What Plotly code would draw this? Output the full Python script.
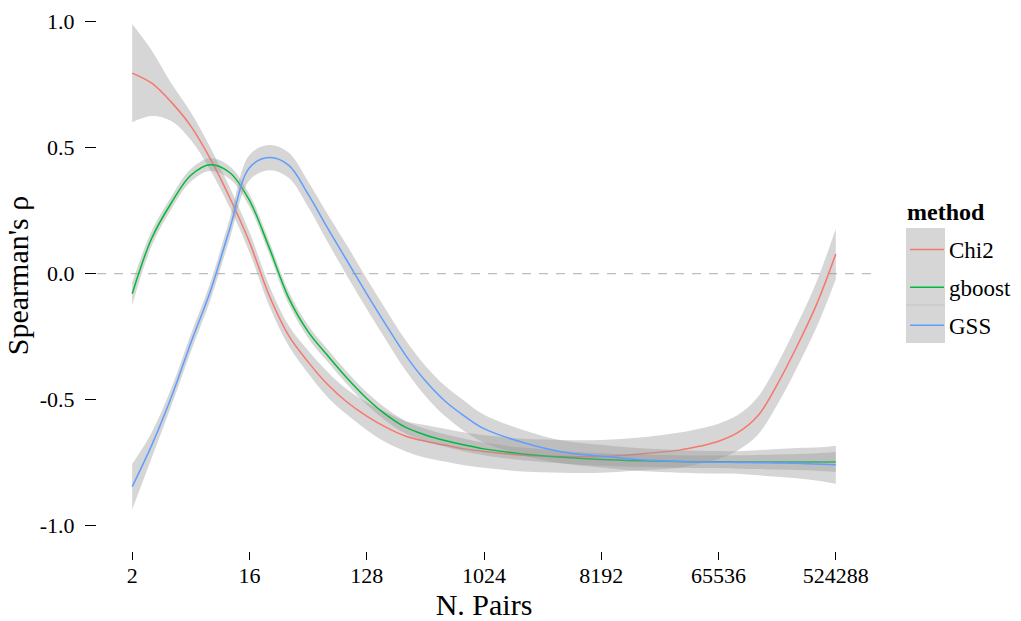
import math
import plotly.graph_objects as go

# ---- data ----
log2_pairs = [1, 1.5, 2, 2.5, 3, 3.5, 4, 4.5, 5, 5.5, 6, 6.5, 7, 7.5, 8, 8.5, 9, 9.5,
              10, 11, 12, 13, 14, 15, 15.5, 16, 16.5, 17, 17.5, 18, 18.5, 19]

chi2_mean = [0.795, 0.755, 0.68, 0.585, 0.455, 0.30, 0.125, -0.085, -0.245, -0.35, -0.44, -0.51,
             -0.565, -0.61, -0.645, -0.665, -0.68, -0.695, -0.705, -0.72, -0.725, -0.725,
             -0.715, -0.70, -0.685, -0.665, -0.63, -0.565, -0.44, -0.29, -0.125, 0.078]
chi2_half = [0.195, 0.13, 0.075, 0.055, 0.045, 0.04, 0.04, 0.04, 0.04, 0.045, 0.05, 0.05,
             0.055, 0.06, 0.06, 0.065, 0.065, 0.065, 0.065, 0.065, 0.065, 0.065, 0.065,
             0.07, 0.07, 0.07, 0.07, 0.075, 0.08, 0.085, 0.09, 0.10]

gboost_mean = [-0.08, 0.14, 0.28, 0.39, 0.432, 0.40, 0.29, 0.105, -0.095, -0.23, -0.325, -0.415,
               -0.495, -0.56, -0.61, -0.64, -0.662, -0.68, -0.695, -0.715, -0.728, -0.737,
               -0.742, -0.745, -0.746, -0.746, -0.747, -0.747, -0.747, -0.747, -0.747, -0.747]
gboost_half = [0.045, 0.03, 0.025, 0.025, 0.025, 0.025, 0.025, 0.025, 0.025, 0.025, 0.025, 0.025,
               0.025, 0.025, 0.025, 0.025, 0.025, 0.025, 0.025, 0.025, 0.025, 0.025, 0.025,
               0.025, 0.025, 0.025, 0.027, 0.028, 0.03, 0.032, 0.035, 0.04]

gss_mean = [-0.845, -0.68, -0.49, -0.275, -0.07, 0.18, 0.42, 0.46, 0.43, 0.315, 0.18, 0.05,
            -0.08, -0.205, -0.325, -0.425, -0.505, -0.565, -0.615, -0.67, -0.707, -0.724, -0.738,
            -0.745, -0.747, -0.748, -0.749, -0.75, -0.751, -0.752, -0.755, -0.758]
gss_half = [0.09, 0.05, 0.035, 0.035, 0.035, 0.04, 0.05, 0.05, 0.05, 0.05, 0.055, 0.06,
            0.06, 0.06, 0.06, 0.06, 0.06, 0.06, 0.055, 0.05, 0.045, 0.045, 0.045, 0.045,
            0.045, 0.045, 0.045, 0.05, 0.055, 0.06, 0.065, 0.075]

methods = ["Chi2", "gboost", "GSS"]
colors = ["#F8766D", "#00BA38", "#619CFF"]

x_tickvals = [2, 16, 128, 1024, 8192, 65536, 524288]
x_ticktext = ["2", "16", "128", "1024", "8192", "65536", "524288"]
y_tickvals = [1.0, 0.5, 0.0, -0.5, -1.0]
y_ticktext = ["1.0", "0.5", "0.0", "-0.5", "-1.0"]

n_pairs = [2 ** v for v in log2_pairs]
series = {"Chi2": (chi2_mean, chi2_half), "gboost": (gboost_mean, gboost_half),
          "GSS": (gss_mean, gss_half)}

FONT = "Liberation Serif"
RIBBON = "rgba(153,153,153,0.4)"

# plot area in pixels
L, R, T, B = 97, 871, 0, 551
W, H = R - L, B - T


def px(xp):
    return (xp - L) / W


def py(yp):
    return (B - yp) / H


fig = go.Figure()
for name, col in zip(methods, colors):
    mean, half = series[name]
    upper = [m + h for m, h in zip(mean, half)]
    lower = [m - h for m, h in zip(mean, half)]
    fig.add_trace(go.Scatter(x=n_pairs, y=upper, mode="lines", line=dict(width=0, shape="spline"),
                             showlegend=False, hoverinfo="skip"))
    fig.add_trace(go.Scatter(x=n_pairs, y=lower, mode="lines", line=dict(width=0, shape="spline"),
                             fill="tonexty", fillcolor=RIBBON, showlegend=False, hoverinfo="skip"))
    fig.add_trace(go.Scatter(x=n_pairs, y=mean, mode="lines", name=name, legendgroup=name,
                             line=dict(color=col, width=1.5, shape="spline")))

fig.update_xaxes(type="log", range=[math.log10(2 ** 0.1), math.log10(2 ** 19.9)],
                 tickvals=x_tickvals, ticktext=x_ticktext, ticks="outside", ticklen=8,
                 tickwidth=1, tickcolor="black", showgrid=False, zeroline=False, showline=False,
                 tickfont=dict(family=FONT, size=22, color="black"), ticklabelstandoff=-3,
                 title=dict(text="N. Pairs", font=dict(family=FONT, size=30, color="black"),
                            standoff=0))
fig.update_yaxes(range=[-1.1, 1.085], tickvals=y_tickvals, ticktext=y_ticktext,
                 ticks="outside", ticklen=11, tickwidth=1, tickcolor="black",
                 showgrid=False, zeroline=False, showline=False,
                 tickfont=dict(family=FONT, size=22, color="black"), ticklabelstandoff=6,
                 title=dict(text="Spearman's ρ", font=dict(family=FONT, size=30, color="black"),
                            standoff=2))

# zero reference line
fig.add_shape(type="line", xref="paper", x0=0, x1=1, yref="y", y0=0, y1=0,
              line=dict(color="#bdbdbd", width=1.3, dash="9px,8px"), layer="below")

# legend key background
fig.add_shape(type="rect", xref="paper", yref="paper",
              x0=px(906), x1=px(945), y0=py(343), y1=py(228),
              fillcolor="#d6d6d6", line=dict(width=0), layer="below")
fig.add_shape(type="line", xref="paper", yref="paper",
              x0=px(906), x1=px(945), y0=py(305), y1=py(305),
              line=dict(color="#c4c4c4", width=1), layer="below")

# legend title
fig.add_annotation(text="<b>method</b>", xref="paper", yref="paper", x=px(905), y=py(212),
                   xanchor="left", yanchor="middle", showarrow=False,
                   font=dict(family=FONT, size=24, color="black"))

fig.update_layout(
    width=1021, height=621,
    margin=dict(l=L, r=1021 - R, t=T, b=621 - B),
    paper_bgcolor="white", plot_bgcolor="white",
    font=dict(family=FONT, color="black"),
    legend=dict(x=px(905), xanchor="left", y=py(228), yanchor="top",
                font=dict(family=FONT, size=23, color="black"), itemwidth=34,
                tracegroupgap=5, bgcolor="rgba(0,0,0,0)"),
)

fig.write_html("out.html")
